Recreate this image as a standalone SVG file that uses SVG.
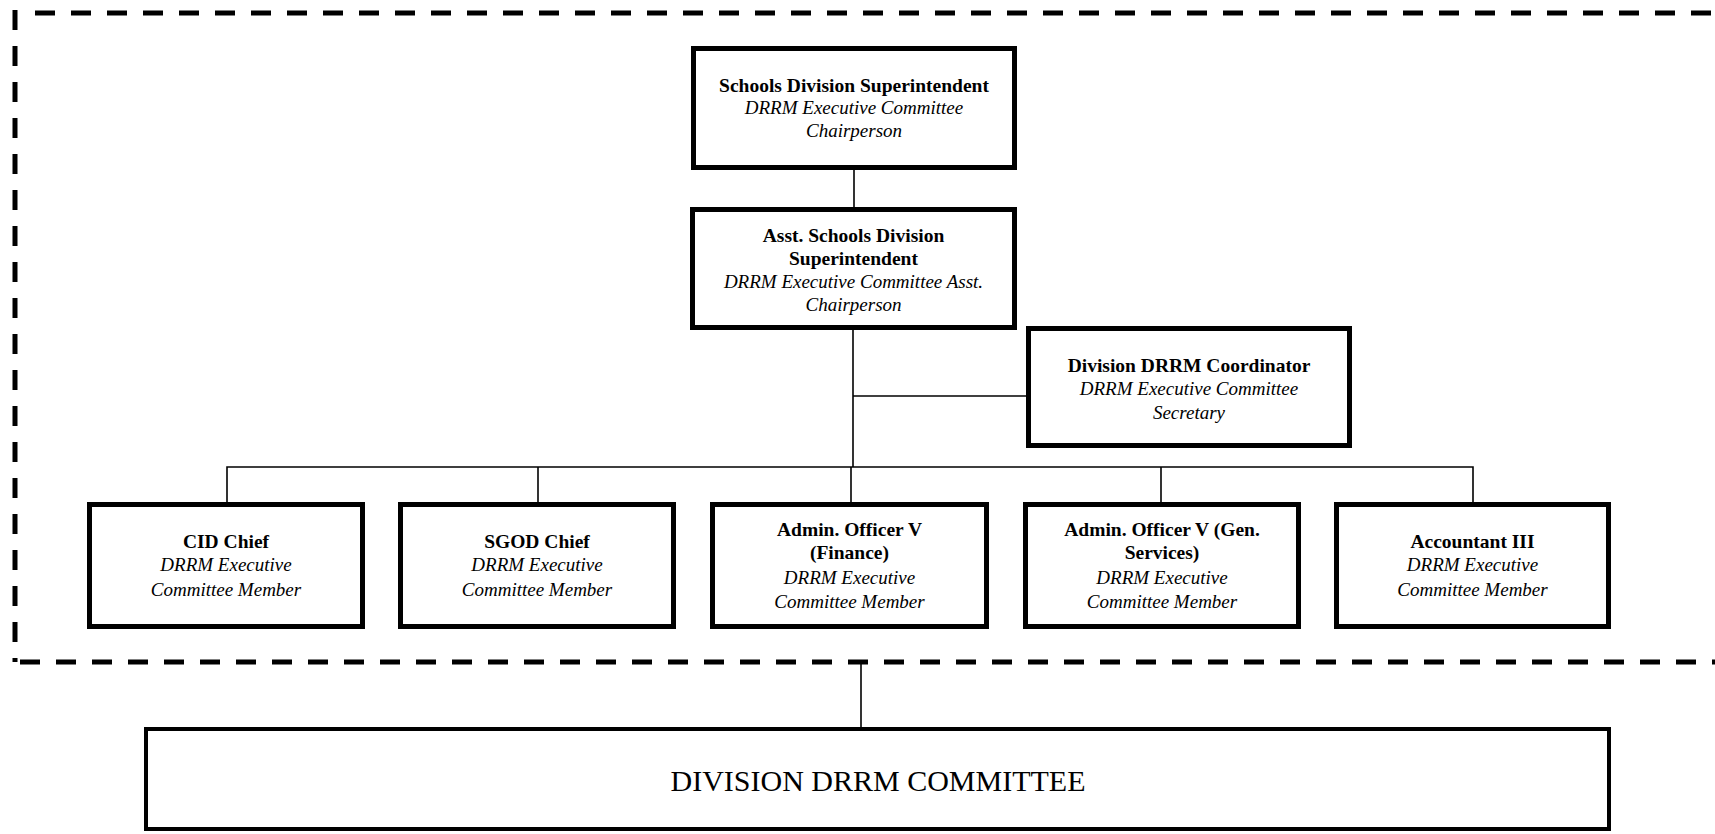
<svg xmlns="http://www.w3.org/2000/svg" width="1715" height="834" viewBox="0 0 1715 834">
<style>
.box{fill:#fff;stroke:#000;stroke-width:5}
.con{fill:none;stroke:#000;stroke-width:1.6}
.dash{fill:none;stroke:#000;stroke-width:5;stroke-dasharray:20 16}
text{font-family:"Liberation Serif","Times New Roman",serif;text-anchor:middle;fill:#000}
.b{font-weight:bold;font-size:19.5px}
.i{font-style:italic;font-size:19px}
.big{font-size:30px}
</style>
<rect width="1715" height="834" fill="#fff"/>
<g id="boundary">
<path class="dash" d="M15,10 V662"/>
<path class="dash" d="M35,13 H1715"/>
<path class="dash" d="M20,662 H1715"/>
</g>
<g id="connectors">
<path class="con" d="M854,170 V207"/>
<path class="con" d="M853,330 V467"/>
<path class="con" d="M853,396 H1026"/>
<path class="con" d="M227,503 V467 H1473 V503"/>
<path class="con" d="M538,467 V503"/>
<path class="con" d="M851,467 V503"/>
<path class="con" d="M1161,467 V503"/>
<path class="con" d="M861,662 V727"/>
</g>
<g id="sds">
<rect class="box" x="693.5" y="48.5" width="321" height="119"/>
<text class="b" x="854" y="92">Schools Division Superintendent</text>
<text class="i" x="854" y="114">DRRM Executive Committee</text>
<text class="i" x="854" y="137">Chairperson</text>
</g>
<g id="asds">
<rect class="box" x="692.5" y="209.5" width="322" height="118"/>
<text class="b" x="853.5" y="242">Asst. Schools Division</text>
<text class="b" x="853.5" y="265">Superintendent</text>
<text class="i" x="853.5" y="288">DRRM Executive Committee Asst.</text>
<text class="i" x="853.5" y="311">Chairperson</text>
</g>
<g id="coordinator">
<rect class="box" x="1028.5" y="328.5" width="321" height="117"/>
<text class="b" x="1189" y="372">Division DRRM Coordinator</text>
<text class="i" x="1189" y="395">DRRM Executive Committee</text>
<text class="i" x="1189" y="419">Secretary</text>
</g>
<g id="cid">
<rect class="box" x="89.5" y="504.5" width="273" height="122"/>
<text class="b" x="226" y="548">CID Chief</text>
<text class="i" x="226" y="571">DRRM Executive</text>
<text class="i" x="226" y="596">Committee Member</text>
</g>
<g id="sgod">
<rect class="box" x="400.5" y="504.5" width="273" height="122"/>
<text class="b" x="537" y="548">SGOD Chief</text>
<text class="i" x="537" y="571">DRRM Executive</text>
<text class="i" x="537" y="596">Committee Member</text>
</g>
<g id="ao-finance">
<rect class="box" x="712.5" y="504.5" width="274" height="122"/>
<text class="b" x="849.5" y="536">Admin. Officer V</text>
<text class="b" x="849.5" y="559">(Finance)</text>
<text class="i" x="849.5" y="584">DRRM Executive</text>
<text class="i" x="849.5" y="608">Committee Member</text>
</g>
<g id="ao-gen">
<rect class="box" x="1025.5" y="504.5" width="273" height="122"/>
<text class="b" x="1162" y="536">Admin. Officer V (Gen.</text>
<text class="b" x="1162" y="559">Services)</text>
<text class="i" x="1162" y="584">DRRM Executive</text>
<text class="i" x="1162" y="608">Committee Member</text>
</g>
<g id="accountant">
<rect class="box" x="1336.5" y="504.5" width="272" height="122"/>
<text class="b" x="1472.5" y="548">Accountant III</text>
<text class="i" x="1472.5" y="571">DRRM Executive</text>
<text class="i" x="1472.5" y="596">Committee Member</text>
</g>
<g id="committee">
<rect x="146" y="729" width="1463" height="100" fill="#fff" stroke="#000" stroke-width="4"/>
<text class="big" x="878" y="791">DIVISION DRRM COMMITTEE</text>
</g>
</svg>
